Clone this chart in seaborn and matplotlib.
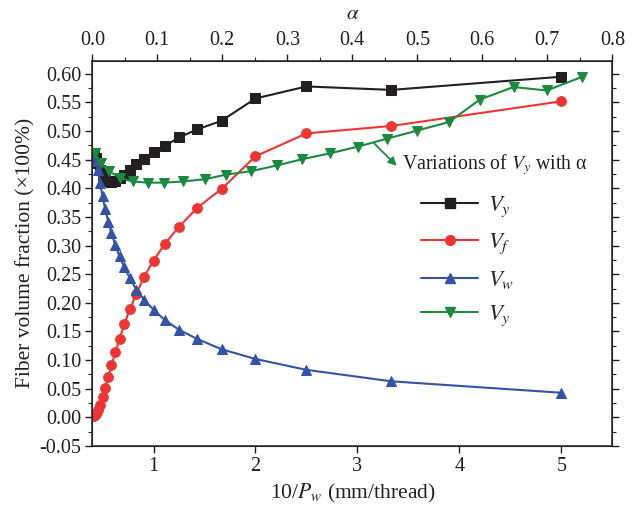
import pandas as pd
import matplotlib
matplotlib.use("Agg")
import matplotlib.pyplot as plt
import seaborn as sns
from matplotlib.ticker import MultipleLocator
from matplotlib.lines import Line2D

# x of the bottom axis: 10/Pw (mm/thread), Pw = 2 ... 24
inv_pw = [5.0, 3.333, 2.5, 2.0, 1.667, 1.429, 1.25, 1.111, 1.0, 0.909, 0.833, 0.769,
          0.714, 0.667, 0.625, 0.588, 0.556, 0.526, 0.5, 0.476, 0.455, 0.435, 0.417]
vy = [0.595, 0.572, 0.578, 0.557, 0.518, 0.503, 0.489, 0.474, 0.463, 0.452, 0.442, 0.432,
      0.424, 0.418, 0.413, 0.411, 0.412, 0.416, 0.424, 0.432, 0.445, 0.453, 0.460]
vf = [0.552, 0.509, 0.496, 0.456, 0.399, 0.366, 0.333, 0.303, 0.274, 0.246, 0.216, 0.189,
      0.163, 0.137, 0.114, 0.091, 0.070, 0.052, 0.036, 0.022, 0.013, 0.006, 0.003]
vw = [0.043, 0.063, 0.083, 0.102, 0.119, 0.137, 0.153, 0.170, 0.188, 0.205, 0.223, 0.243,
      0.262, 0.281, 0.301, 0.322, 0.342, 0.364, 0.386, 0.410, 0.432, 0.447, 0.459]

# top axis: V_y against alpha
alpha = [0.004, 0.013, 0.026, 0.043, 0.062, 0.085, 0.110, 0.140, 0.173, 0.206, 0.244,
         0.284, 0.323, 0.365, 0.409, 0.454, 0.500, 0.549, 0.596, 0.648, 0.699, 0.754]
vy_alpha = [0.461, 0.444, 0.430, 0.418, 0.412, 0.410, 0.410, 0.412, 0.416, 0.424, 0.430,
            0.440, 0.451, 0.461, 0.473, 0.487, 0.501, 0.516, 0.555, 0.577, 0.571, 0.595]

BLACK = "#231f20"
RED = "#ee3333"
BLUE = "#3353a8"
GREEN = "#1b8a3e"

sns.set_style("ticks")
plt.rcParams["font.family"] = ["Liberation Serif", "DejaVu Serif"]
plt.rcParams["mathtext.fontset"] = "stix"
plt.rcParams["xtick.direction"] = "out"
plt.rcParams["ytick.direction"] = "out"

df = pd.DataFrame({"x": inv_pw, "vy": vy, "vf": vf, "vw": vw})
df_a = pd.DataFrame({"alpha": alpha, "vy": vy_alpha})

fig = plt.figure(figsize=(6.35, 5.07), dpi=100)
ax = fig.add_axes([0.1454, 0.1203, 0.8189, 0.760])

series = [("vy", "s", BLACK, r"$V_y$"),
          ("vf", "o", RED, r"$V_f$"),
          ("vw", "^", BLUE, r"$V_w$")]
for col, mk, c, lab in series:
    sns.lineplot(data=df, x="x", y=col, marker=mk, color=c, markeredgecolor=c,
                 markersize=7, linewidth=1.5, sort=False, ax=ax, legend=False)

ax.set_xlim(0.4, 5.5)
ax.set_ylim(-0.05, 0.623)
ax.xaxis.set_major_locator(MultipleLocator(1))
ax.yaxis.set_major_locator(MultipleLocator(0.05))
ax.yaxis.set_minor_locator(MultipleLocator(0.025))
ax.yaxis.set_major_formatter(matplotlib.ticker.FormatStrFormatter("%.2f"))
ax.tick_params(axis="y", which="both", right=True, labelright=False)
ax.tick_params(which="major", length=5, width=1, labelsize=14.5, colors=BLACK, pad=3)
ax.tick_params(which="minor", length=3, width=0.8)
ax.set_xlabel(r"10/$P_w$ (mm/thread)", fontsize=15.5, color=BLACK, labelpad=4)
ax.set_ylabel("Fiber volume fraction (×100%)", fontsize=15.5, color=BLACK, labelpad=3)
for sp in ax.spines.values():
    sp.set_visible(True)
    sp.set_linewidth(1.1)
    sp.set_color(BLACK)

ax2 = ax.twiny()
sns.lineplot(data=df_a, x="alpha", y="vy", marker="v", color=GREEN, markeredgecolor=GREEN,
             markersize=7, linewidth=1.5, sort=False, ax=ax2, legend=False)
ax2.set_xlim(0, 0.8)
ax2.set_ylim(-0.05, 0.623)
ax2.xaxis.set_major_locator(MultipleLocator(0.1))
ax2.xaxis.set_minor_locator(MultipleLocator(0.05))
ax2.xaxis.set_major_formatter(matplotlib.ticker.FormatStrFormatter("%.1f"))
ax2.tick_params(which="major", length=5, width=1, labelsize=14.5, colors=BLACK, pad=3)
ax2.tick_params(which="minor", length=3, width=0.8)
ax2.set_xlabel(r"$\alpha$", fontsize=15, color=BLACK, labelpad=8)
ax2.set_ylabel("")

# annotation for the green curve
ax2.annotate("", xy=(0.4713, 0.436), xytext=(0.4305, 0.482),
             arrowprops=dict(arrowstyle="-|>", color=GREEN, lw=1.3, mutation_scale=12))
ax2.text(0.4757, 0.441, r"Variations of $V_y$ with α", fontsize=14.3, color=BLACK,
         va="center", ha="left")

handles = [Line2D([], [], color=c, marker=mk, markersize=7, markeredgecolor=c, lw=1.5)
           for _, mk, c, _ in series]
handles.append(Line2D([], [], color=GREEN, marker="v", markersize=7, markeredgecolor=GREEN, lw=1.5))
labels = [lab for *_, lab in series] + [r"$V_y$"]
ax2.legend(handles, labels, loc="center left", bbox_to_anchor=(0.633, 0.48),
           frameon=False, fontsize=16.5, handlelength=2.45, labelspacing=0.55,
           borderpad=0, borderaxespad=0, handletextpad=0.45)

fig.savefig("out.png", dpi=100)
